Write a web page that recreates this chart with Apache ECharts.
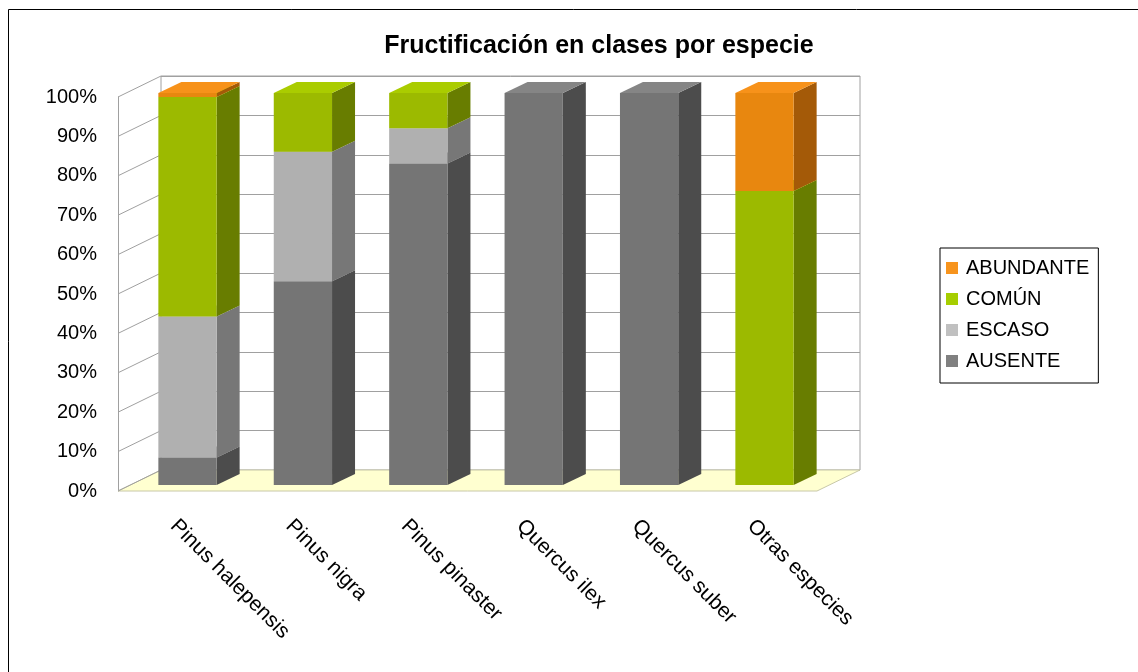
<!DOCTYPE html>
<html>
<head>
<meta charset="utf-8">
<script src="https://cdn.jsdelivr.net/npm/echarts@6/dist/echarts.min.js"></script>
<style>
  html, body { margin: 0; padding: 0; background: #fff; }
  #myEchart { width: 1138px; height: 672px; }
</style>
</head>
<body>
<div id="myEchart"></div>
<script>
// datos (% por clase)
var categories = ['Pinus halepensis', 'Pinus nigra', 'Pinus pinaster', 'Quercus ilex', 'Quercus suber', 'Otras especies'];
var ausente = [7, 52, 82, 100, 100, 0];
var escaso = [36, 33, 9, 0, 0, 0];
var comun = [56, 15, 9, 0, 0, 75];
var abundante = [1, 0, 0, 0, 0, 25];
var yTicks = [0, 10, 20, 30, 40, 50, 60, 70, 80, 90, 100];

var classNames = ['AUSENTE', 'ESCASO', 'COMÚN', 'ABUNDANTE'];
var classValues = [ausente, escaso, comun, abundante];

// colores: leyenda, cara frontal, lateral, superior
var shades = {
  'AUSENTE': {legend: '#808080', front: '#757575', side: '#4c4c4c', top: '#858585'},
  'ESCASO': {legend: '#c0c0c0', front: '#b0b0b0', side: '#777777', top: '#bdbdbd'},
  'COMÚN': {legend: '#a6ce00', front: '#9cba00', side: '#687d00', top: '#aacc00'},
  'ABUNDANTE': {legend: '#f7941d', front: '#e8870f', side: '#a45a08', top: '#f7921a'}
};

var DX = 23, DY = -11; // profundidad de las barras
var WX = 43, WY = -21; // profundidad de paredes / suelo

var chart = echarts.init(document.getElementById('myEchart'));

// apila los valores
var base = categories.map(function () { return 0; });
var series = [];
classNames.forEach(function (name, k) {
  var vals = classValues[k];
  var data = vals.map(function (v, i) {
    var d = [i, base[i], base[i] + v];
    base[i] += v;
    return d;
  });
  var sh = shades[name];
  series.push({
    name: name,
    type: 'custom',
    xAxisIndex: 0,
    yAxisIndex: 0,
    itemStyle: {color: sh.legend},
    encode: {x: 0, y: [1, 2]},
    data: data,
    z: 10,
    renderItem: function (params, api) {
      var lo = api.value(1), hi = api.value(2);
      if (hi - lo <= 0) return null;
      var c0 = api.coord([api.value(0), lo]);
      var c1 = api.coord([api.value(0), hi]);
      var w = api.size([1, 0])[0] * 0.505;
      var x0 = c0[0] - w / 2, x1 = c0[0] + w / 2;
      var yb = c0[1], yt = c1[1];
      return {
        type: 'group',
        children: [
          {type: 'polygon', shape: {points: [[x1, yb], [x1 + DX, yb + DY], [x1 + DX, yt + DY], [x1, yt]]}, style: {fill: sh.side}},
          {type: 'polygon', shape: {points: [[x0, yt], [x1, yt], [x1 + DX, yt + DY], [x0 + DX, yt + DY]]}, style: {fill: sh.top}},
          {type: 'rect', shape: {x: x0, y: yt, width: w, height: yb - yt}, style: {fill: sh.front}}
        ]
      };
    }
  });
});

// paredes y suelo
series.push({
  type: 'custom',
  xAxisIndex: 1,
  yAxisIndex: 1,
  silent: true,
  data: [[0]],
  z: 1,
  renderItem: function (params, api) {
    var bl = api.coord([0, 0]);
    var br = api.coord([1, 0]);
    var children = [];
    children.push({
      type: 'polygon',
      shape: {points: [bl, br, [br[0] - WX, br[1] - WY], [bl[0] - WX, bl[1] - WY]]},
      style: {fill: '#ffffd0', stroke: '#c8c8a8', lineWidth: 1}
    });
    yTicks.forEach(function (t) {
      var p = api.coord([0, t]);
      children.push({
        type: 'line',
        shape: {x1: p[0], y1: p[1], x2: p[0] - WX, y2: p[1] - WY},
        style: {stroke: '#a0a0a0', lineWidth: 1}
      });
    });
    return {type: 'group', children: children};
  }
});

var option = {
  backgroundColor: '#fff',
  animation: false,
  textStyle: {fontFamily: 'Liberation Sans, Arial, sans-serif'},
  title: {
    text: 'Fructificación en clases por especie',
    left: 594,
    top: 29,
    textAlign: 'center',
    textStyle: {fontSize: 25, fontWeight: 'bold', color: '#000', fontFamily: 'Liberation Sans, Arial, sans-serif'}
  },
  legend: {
    orient: 'vertical',
    left: 940,
    top: 248,
    data: ['ABUNDANTE', 'COMÚN', 'ESCASO', 'AUSENTE'],
    itemWidth: 12,
    itemHeight: 12,
    itemGap: 11,
    icon: 'rect',
    padding: [10, 9, 12, 6],
    borderColor: '#000',
    borderWidth: 1,
    textStyle: {fontSize: 20, color: '#000', padding: [0, 0, 0, 3]}
  },
  graphic: [{
    type: 'rect',
    shape: {x: 8.5, y: 9.5, width: 1200, height: 700},
    style: {fill: null, stroke: '#000', lineWidth: 1},
    silent: true
  }],
  grid: [
    // plano frontal de las barras
    {left: 129.8, width: 692.4, top: 93, height: 392},
    // pared del fondo
    {left: 161, width: 699, top: 76, height: 394, show: true, backgroundColor: '#fff', borderColor: '#a0a0a0', borderWidth: 1},
    // borde frontal (etiquetas del eje Y)
    {left: 118, width: 692.4, top: 97, height: 394},
    // etiquetas de categoría
    {left: 116, width: 692.4, top: 97, height: 394}
  ],
  xAxis: [
    {gridIndex: 0, type: 'category', data: categories, show: false},
    {gridIndex: 1, type: 'value', min: 0, max: 1, show: false},
    {gridIndex: 2, type: 'category', data: categories, show: false},
    {gridIndex: 3, type: 'category', data: categories,
      axisLine: {show: false}, axisTick: {show: false},
      axisLabel: {rotate: -45, margin: 32, fontSize: 21, color: '#000', interval: 0}}
  ],
  yAxis: [
    {gridIndex: 0, type: 'value', min: 0, max: 100, show: false},
    {gridIndex: 1, type: 'value', min: 0, max: 100, interval: 10,
      axisLine: {show: false}, axisTick: {show: false}, axisLabel: {show: false},
      splitLine: {show: true, lineStyle: {color: '#a0a0a0', width: 1}}},
    {gridIndex: 2, type: 'value', min: 0, max: 100, interval: 10,
      axisLine: {show: true, lineStyle: {color: '#a0a0a0'}}, axisTick: {show: false},
      splitLine: {show: false},
      axisLabel: {formatter: '{value}%', fontSize: 20, color: '#000', margin: 21, padding: [5, 0, 0, 0]}},
    {gridIndex: 3, type: 'value', min: 0, max: 100, show: false}
  ],
  series: series
};
chart.setOption(option);
</script>
</body>
</html>
